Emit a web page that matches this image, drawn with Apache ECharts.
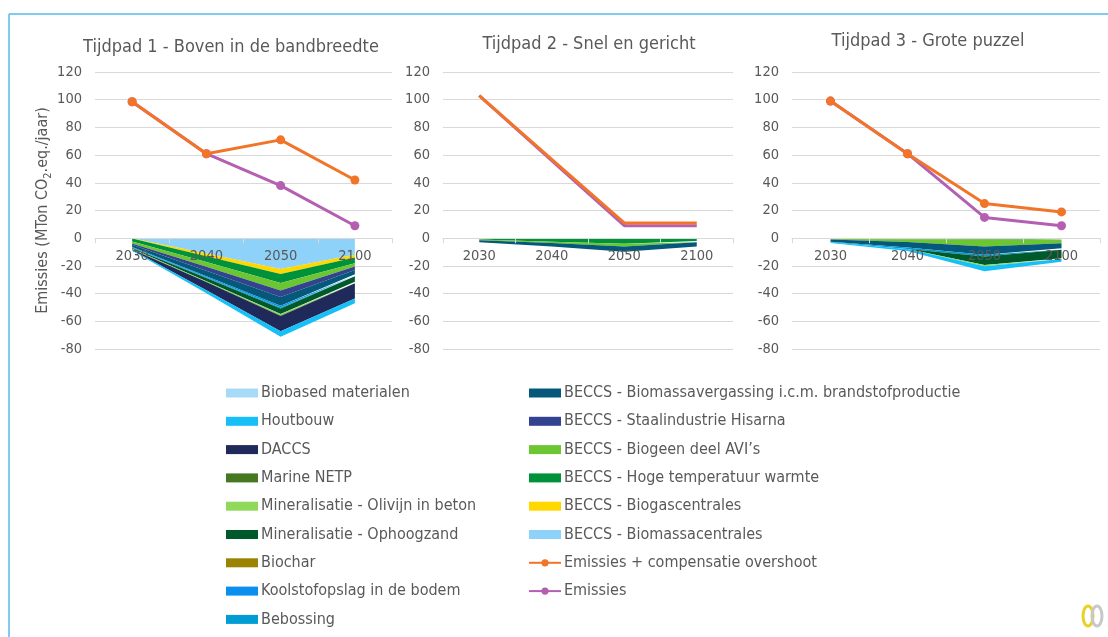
<!DOCTYPE html>
<html><head><meta charset="utf-8">
<script src="https://cdn.jsdelivr.net/npm/echarts@6/dist/echarts.min.js"></script>
<style>html,body{margin:0;padding:0;background:#fff}#c{width:1108px;height:637px}</style>
</head><body><div id="c"></div>
<script>
// ---------- DATA ----------
const categories = ['2030', '2040', '2050', '2100'];
const panelTitles = ['Tijdpad 1 - Boven in de bandbreedte', 'Tijdpad 2 - Snel en gericht', 'Tijdpad 3 - Grote puzzel'];
const yMin = -80, yMax = 120, yStep = 20;

// Negative-emission techniques, one row per panel [Tijdpad 1, Tijdpad 2, Tijdpad 3] (MTon CO2-eq/jaar)
const biomassacentrales = [[0, -11, -22.2, -12], [0, 0, 0, 0], [0, 0, 0, 0]];
const biogascentrales   = [[-0.3, -2, -3.7, -2], [0, 0, 0, 0], [0, 0, 0, 0]];
const hogeTemperatuur   = [[-2, -4.2, -6.5, -4], [-1, -2.5, -4, -2], [-0.5, -0.8, -1, -1]];
const biogeenAVI        = [[-1.5, -3.4, -5.3, -2.5], [-0.5, -1, -2, -1], [-0.5, -2, -5, -2.6]];
const staalHisarna      = [[-1, -2.9, -4.8, -2.5], [0, 0, 0, 0], [0, 0, 0, 0]];
const biomassavergassing= [[-1.5, -3.9, -6.3, -3], [-1.5, -2.5, -3.7, -3], [-1.5, -4, -6, -3.6]];
const bebossing         = [[-0.5, -0.8, -1.2, -1], [0, 0, 0, 0], [-0.5, -1, -1.3, -1.2]];
const koolstofopslag    = [[-0.3, -0.5, -0.7, -0.5], [0, 0, 0, 0], [0, 0, 0, 0]];
const biochar           = [[0, 0, 0, 0], [0, 0, 0, 0], [0, 0, 0, 0]];
const ophoogzand        = [[-0.5, -2.3, -4.1, -4], [0, 0, 0, 0], [0, 0, -6, -6]];
const olivijn           = [[-0.3, -0.6, -1, -0.8], [0, 0, 0, 0], [0, 0, -1, -0.6]];
const marineNETP        = [[-0.2, -0.1, -0.3, -0.2], [0, 0, 0, 0], [0, 0, 0, 0]];
const daccs             = [[-0.5, -5.8, -11, -11], [0, 0, 0, 0], [0, 0, 0, 0]];
const houtbouw          = [[-0.5, -2.3, -4.1, -3.5], [0, 0, 0, 0], [-0.5, -1.5, -3.5, -2]];
const biobased          = [[0, 0, 0, 0], [0, 0, 0, 0], [0, 0, 0, 0]];

// Lines
const emissiesCompensatie = [[98.5, 61, 71, 42], [103, 57, 11, 11], [99, 61, 25, 19]];
const emissies            = [[98.5, 61, 38, 9], [103, 56, 9, 9], [99, 61, 15, 9]];

// ---------- STYLE ----------
const FONT = "'DejaVu Sans Condensed','DejaVu Sans',sans-serif";
const TXT = '#595959';
const GRIDC = '#d9d9d9';

// stack order from zero downward
const areaDefs = [
  ['BECCS - Biomassacentrales', biomassacentrales, '#8ed2fa'],
  ['BECCS - Biogascentrales', biogascentrales, '#ffd800'],
  ['BECCS - Hoge temperatuur warmte', hogeTemperatuur, '#00923a'],
  ['BECCS - Biogeen deel AVI\u2019s', biogeenAVI, '#6cc631'],
  ['BECCS - Staalindustrie Hisarna', staalHisarna, '#33438f'],
  ['BECCS - Biomassavergassing i.c.m. brandstofproductie', biomassavergassing, '#06587b'],
  ['Bebossing', bebossing, '#009cd4'],
  ['Koolstofopslag in de bodem', koolstofopslag, '#0a8fef'],
  ['Biochar', biochar, '#9b8200'],
  ['Mineralisatie - Ophoogzand', ophoogzand, '#00592a'],
  ['Mineralisatie - Olivijn in beton', olivijn, '#8fd85a'],
  ['Marine NETP', marineNETP, '#45781f'],
  ['DACCS', daccs, '#1f2a5b'],
  ['Houtbouw', houtbouw, '#16c0f6'],
  ['Biobased materialen', biobased, '#a6daf7']
];
const ORANGE = '#f27428', PURPLE = '#b45fb1';

const grids = [
  {left: 95, width: 297, top: 72, height: 277},
  {left: 443, width: 290, top: 72, height: 277},
  {left: 792, width: 308, top: 72, height: 277}
];
// offset that moves the category axis from the grid bottom up to the value 0
const zeroOffset = -(grids[0].height * (0 - yMin) / (yMax - yMin));
const titlePos = [[231, 38], [589, 35], [928, 32]];

const series = [];
for (let p = 0; p < 3; p++) {
  areaDefs.forEach(([name, arr, color]) => {
    series.push({
      name, type: 'line', xAxisIndex: p, yAxisIndex: p, stack: 'neg' + p,
      data: arr[p], symbol: 'none', showSymbol: false,
      lineStyle: {width: 0, color}, itemStyle: {color},
      areaStyle: {color, opacity: 1}, z: 2, silent: true
    });
  });
  const withMarker = p !== 1;
  series.push({
    name: 'Emissies', type: 'line', xAxisIndex: p, yAxisIndex: p, data: emissies[p],
    symbol: withMarker ? 'circle' : 'none', symbolSize: 9, showSymbol: withMarker,
    lineStyle: {width: 3, color: PURPLE}, itemStyle: {color: PURPLE}, z: 4
  });
  series.push({
    name: 'Emissies + compensatie overshoot', type: 'line', xAxisIndex: p, yAxisIndex: p, data: emissiesCompensatie[p],
    symbol: withMarker ? 'circle' : 'none', symbolSize: 9, showSymbol: withMarker,
    lineStyle: {width: 3, color: ORANGE}, itemStyle: {color: ORANGE}, z: 5
  });
}

const leftLegend = ['Biobased materialen', 'Houtbouw', 'DACCS', 'Marine NETP', 'Mineralisatie - Olivijn in beton',
  'Mineralisatie - Ophoogzand', 'Biochar', 'Koolstofopslag in de bodem', 'Bebossing'];
const rightLegend = ['BECCS - Biomassavergassing i.c.m. brandstofproductie', 'BECCS - Staalindustrie Hisarna',
  'BECCS - Biogeen deel AVI\u2019s', 'BECCS - Hoge temperatuur warmte', 'BECCS - Biogascentrales',
  'BECCS - Biomassacentrales', 'Emissies + compensatie overshoot', 'Emissies'];
const lineNames = ['Emissies + compensatie overshoot', 'Emissies'];
const legendItem = n => lineNames.includes(n) ? {name: n} : {name: n, icon: 'rect'};
const legendBase = {
  orient: 'vertical', top: 384, itemWidth: 32, itemHeight: 9, itemGap: 10.3, selectedMode: false,
  textStyle: {color: TXT, fontSize: 16, fontFamily: FONT, lineHeight: 18, padding: [0, 0, 0, -2]}, padding: 0
};

const option = {
  animation: false,
  backgroundColor: '#fff',
  textStyle: {fontFamily: FONT},
  title: panelTitles.map((t, i) => ({
    text: t, left: titlePos[i][0], top: titlePos[i][1], textAlign: 'center', padding: 0,
    textStyle: {color: TXT, fontSize: 18, fontWeight: 'normal', fontFamily: FONT}
  })),
  legend: [
    Object.assign({}, legendBase, {left: 226, data: leftLegend.map(legendItem)}),
    Object.assign({}, legendBase, {left: 528, data: rightLegend.map(legendItem)})
  ],
  grid: grids,
  xAxis: grids.map((g, i) => ({
    type: 'category', gridIndex: i, data: categories, boundaryGap: true, z: 10,
    position: 'bottom', offset: zeroOffset,
    axisLine: {onZero: false, lineStyle: {color: GRIDC, width: 1}},
    axisTick: {show: true, length: 5, lineStyle: {color: GRIDC}},
    axisLabel: {color: TXT, fontSize: 14.5, margin: 11, fontFamily: FONT}
  })),
  yAxis: grids.map((g, i) => ({
    type: 'value', gridIndex: i, min: yMin, max: yMax, interval: yStep,
    axisLine: {show: false}, axisTick: {show: false},
    splitLine: {lineStyle: {color: GRIDC, width: 1}},
    axisLabel: {color: TXT, fontSize: 14.5, margin: 13, fontFamily: FONT},
    name: i === 0 ? 'Emissies (MTon CO{sub|2}.eq./jaar)' : '',
    nameLocation: 'middle', nameRotate: 90, nameGap: 40,
    nameTextStyle: {color: TXT, fontSize: 16, fontFamily: FONT,
      rich: {sub: {fontSize: 11, verticalAlign: 'bottom', padding: [9, 0, 0, 0], color: TXT, fontFamily: FONT}}}
  })),
  graphic: [
    {type: 'line', shape: {x1: 9, y1: 14, x2: 1108, y2: 14}, style: {stroke: '#56bbe8', lineWidth: 1.5}},
    {type: 'line', shape: {x1: 9, y1: 14, x2: 9, y2: 637}, style: {stroke: '#56bbe8', lineWidth: 1.5}},
    {type: 'ellipse', shape: {cx: 1088, cy: 616, rx: 5, ry: 10}, style: {fill: 'none', stroke: '#e8d22a', lineWidth: 3}},
    {type: 'ellipse', shape: {cx: 1097, cy: 616, rx: 5, ry: 10}, style: {fill: 'none', stroke: '#c8c8c8', lineWidth: 3}}
  ],
  series
};

const chart = echarts.init(document.getElementById('c'), null, {renderer: 'canvas'});
chart.setOption(option);
</script>
</body></html>
